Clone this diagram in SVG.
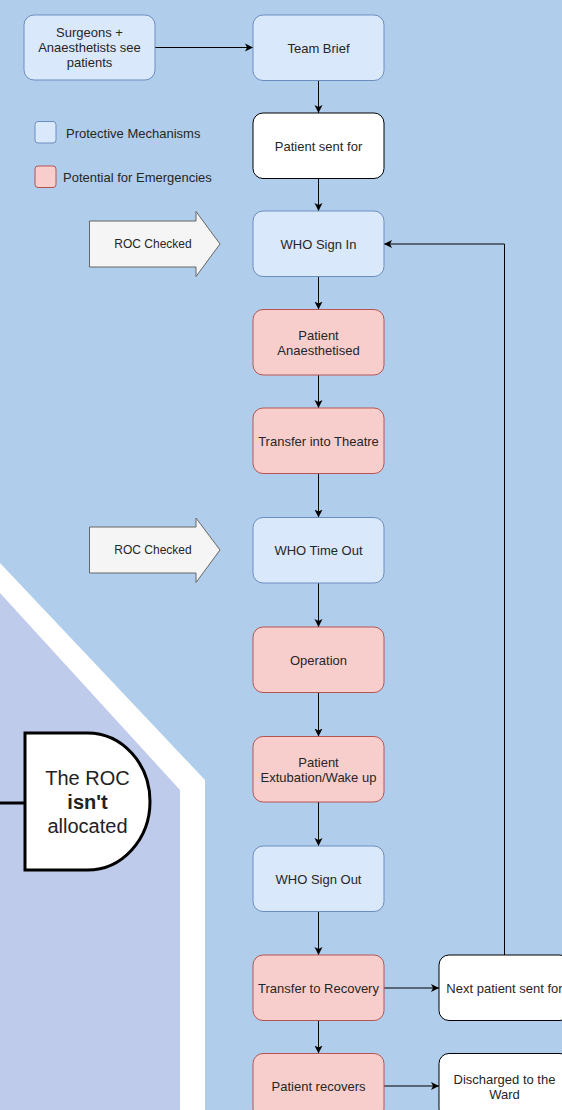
<svg xmlns="http://www.w3.org/2000/svg" width="562" height="1110" viewBox="0 0 562 1110">
<style>
.t{font-family:"Liberation Sans",Arial,sans-serif;font-size:13px;fill:#262626;text-anchor:middle}
.blue{fill:#dae8fc;stroke:#6c8ebf;stroke-width:1}
.red{fill:#f8cecc;stroke:#b85450;stroke-width:1}
.wht{fill:#ffffff;stroke:#000;stroke-width:1}
.c{fill:none;stroke:#000;stroke-width:1;marker-end:url(#ah)}
.roc{fill:#f5f5f5;stroke:#666;stroke-width:1}
.g{font-family:"Liberation Sans",Arial,sans-serif;font-size:20px;fill:#222;text-anchor:middle}
</style>
<defs>
<marker id="ah" markerWidth="10" markerHeight="10" refX="8" refY="5" orient="auto" markerUnits="userSpaceOnUse">
<path d="M0,1 L8,5 L0,9 L2,5 Z" fill="#000"/>
</marker>
</defs>
<rect x="0" y="0" width="562" height="1110" fill="#b0ceeb"/>
<g id="hexagon">
<polygon points="0,563 205,780 205,1110 0,1110" fill="#ffffff"/>
<polygon points="0,593 180,790 180,1110 0,1110" fill="#bfcbea"/>
</g>
<g id="connectors">
<path class="c" d="M155,47.5 L253,47.5"/>
<path class="c" d="M318.5,80.5 L318.5,113"/>
<path class="c" d="M318.5,178.5 L318.5,211"/>
<path class="c" d="M318.5,276.5 L318.5,309.5"/>
<path class="c" d="M318.5,375 L318.5,408"/>
<path class="c" d="M318.5,473.5 L318.5,517.5"/>
<path class="c" d="M318.5,583 L318.5,627"/>
<path class="c" d="M318.5,692.5 L318.5,736.5"/>
<path class="c" d="M318.5,802 L318.5,846"/>
<path class="c" d="M318.5,911.5 L318.5,955"/>
<path class="c" d="M318.5,1020.5 L318.5,1053.5"/>
<path class="c" d="M384,988 L439,988"/>
<path class="c" d="M384,1086 L439,1086"/>
<path class="c" d="M504.5,955 L504.5,244 L384,244"/>
<path d="M0,803 L25,803" stroke="#000" stroke-width="3" fill="none"/>
</g>
<g id="legend">
<rect x="35" y="121.5" width="21" height="21.5" rx="3" class="blue"/>
<text x="66" y="137.5" class="t" style="text-anchor:start">Protective Mechanisms</text>
<rect x="35" y="166" width="21" height="21.5" rx="3" class="red"/>
<text x="63" y="181.5" class="t" style="text-anchor:start">Potential for Emergencies</text>
</g>
<g id="surgeons">
<rect x="24" y="15" width="131" height="65" rx="10" class="blue"/>
<text class="t" x="89.5" y="36.5">Surgeons +</text>
<text class="t" x="89.5" y="51.5">Anaesthetists see</text>
<text class="t" x="89.5" y="66.5">patients</text>
</g>
<g id="team-brief">
<rect x="253" y="15" width="131" height="65.5" rx="10" class="blue"/>
<text class="t" x="318.5" y="52.5">Team Brief</text>
</g>
<g id="patient-sent-for">
<rect x="253" y="113" width="131" height="65.5" rx="10" class="wht"/>
<text class="t" x="318.5" y="150.5">Patient sent for</text>
</g>
<g id="roc-checked-1">
<path class="roc" d="M89.5,221 L196,221 L196,211.5 L220,244 L196,276.5 L196,267 L89.5,267 Z"/>
<text class="t" x="153" y="248" style="font-size:12px">ROC Checked</text>
</g>
<g id="who-sign-in">
<rect x="253" y="211" width="131" height="65.5" rx="10" class="blue"/>
<text class="t" x="318.5" y="248.5">WHO Sign In</text>
</g>
<g id="patient-anaesthetised">
<rect x="253" y="309.5" width="131" height="65.5" rx="10" class="red"/>
<text class="t" x="318.5" y="339.5">Patient</text>
<text class="t" x="318.5" y="354.5">Anaesthetised</text>
</g>
<g id="transfer-into-theatre">
<rect x="253" y="408" width="131" height="65.5" rx="10" class="red"/>
<text class="t" x="318.5" y="445.5">Transfer into Theatre</text>
</g>
<g id="roc-checked-2">
<path class="roc" d="M89.5,527 L196,527 L196,518 L220,550 L196,582.5 L196,573 L89.5,573 Z"/>
<text class="t" x="153" y="554" style="font-size:12px">ROC Checked</text>
</g>
<g id="who-time-out">
<rect x="253" y="517.5" width="131" height="65.5" rx="10" class="blue"/>
<text class="t" x="318.5" y="555">WHO Time Out</text>
</g>
<g id="operation">
<rect x="253" y="627" width="131" height="65.5" rx="10" class="red"/>
<text class="t" x="318.5" y="664.5">Operation</text>
</g>
<g id="patient-extubation">
<rect x="253" y="736.5" width="131" height="65.5" rx="10" class="red"/>
<text class="t" x="318.5" y="766.5">Patient</text>
<text class="t" x="318.5" y="781.5">Extubation/Wake up</text>
</g>
<g id="who-sign-out">
<rect x="253" y="846" width="131" height="65.5" rx="10" class="blue"/>
<text class="t" x="318.5" y="883.5">WHO Sign Out</text>
</g>
<g id="transfer-to-recovery">
<rect x="253" y="955" width="131" height="65.5" rx="10" class="red"/>
<text class="t" x="318.5" y="992.5">Transfer to Recovery</text>
</g>
<g id="next-patient">
<rect x="439" y="955" width="131" height="65.5" rx="10" class="wht"/>
<text class="t" x="504.5" y="992.5">Next patient sent for</text>
</g>
<g id="patient-recovers">
<rect x="253" y="1053.5" width="131" height="65.5" rx="10" class="red"/>
<text class="t" x="318.5" y="1091">Patient recovers</text>
</g>
<g id="discharged">
<rect x="439" y="1053.5" width="131" height="65.5" rx="10" class="wht"/>
<text class="t" x="504.5" y="1083.5">Discharged to the</text>
<text class="t" x="504.5" y="1098.5">Ward</text>
</g>
<g id="roc-not-allocated">
<path d="M25,733 L87.5,733 A62.5,68.5 0 0 1 87.5,870 L25,870 Z" fill="#ffffff" stroke="#000" stroke-width="3"/>
<text class="g" x="87.5" y="785">The ROC</text>
<text class="g" x="87.5" y="809" font-weight="bold">isn't</text>
<text class="g" x="87.5" y="833">allocated</text>
</g>
</svg>
